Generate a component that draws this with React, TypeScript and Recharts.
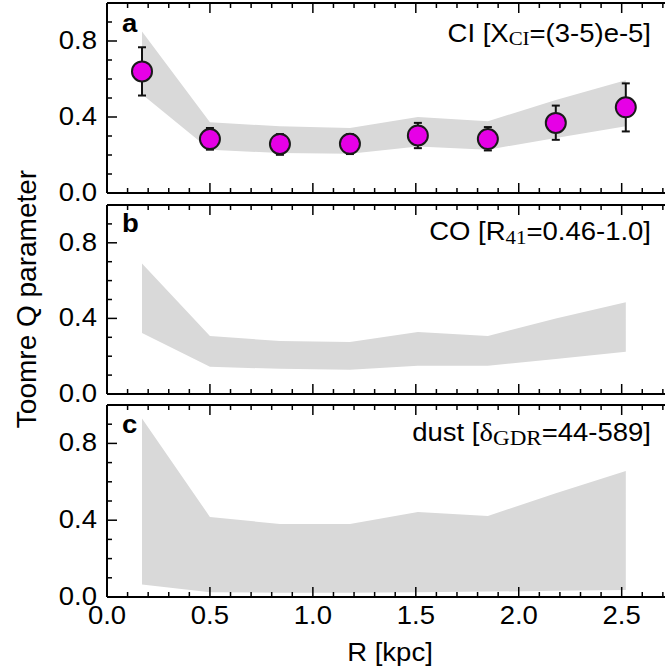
import { ComposedChart, Area, Scatter, ErrorBar, XAxis, YAxis } from "recharts";

// radial bins (kpc)
const radius = [0.17, 0.5, 0.84, 1.18, 1.51, 1.85, 2.18, 2.52];

// panel a: CI
const ciQ = [0.64, 0.284, 0.258, 0.259, 0.303, 0.284, 0.369, 0.451];
const ciErrLow = [0.513, 0.228, 0.201, 0.205, 0.236, 0.224, 0.28, 0.324];
const ciErrHigh = [0.767, 0.342, 0.31, 0.31, 0.369, 0.347, 0.46, 0.577];
const ciBandLow = [0.52, 0.228, 0.21, 0.206, 0.245, 0.228, 0.29, 0.351];
const ciBandHigh = [0.85, 0.372, 0.351, 0.342, 0.4, 0.377, 0.49, 0.593];

// panel b: CO
const coBandLow = [0.323, 0.144, 0.133, 0.128, 0.149, 0.149, 0.185, 0.223];
const coBandHigh = [0.69, 0.307, 0.28, 0.275, 0.328, 0.307, 0.4, 0.486];

// panel c: dust
const dustBandLow = [0.065, 0.025, 0.022, 0.022, 0.025, 0.028, 0.032, 0.036];
const dustBandHigh = [0.93, 0.417, 0.38, 0.38, 0.443, 0.422, 0.54, 0.656];

const xTicks = [0, 0.1, 0.2, 0.3, 0.4, 0.5, 0.6, 0.7, 0.8, 0.9, 1.0, 1.1, 1.2, 1.3, 1.4, 1.5, 1.6, 1.7, 1.8, 1.9, 2.0, 2.1, 2.2, 2.3, 2.4, 2.5, 2.6, 2.7];
const xMajor = [0, 0.5, 1.0, 1.5, 2.0, 2.5];
const xLabels = ["0.0", "0.5", "1.0", "1.5", "2.0", "2.5"];
const yTicks = [0, 0.1, 0.2, 0.3, 0.4, 0.5, 0.6, 0.7, 0.8, 0.9, 1.0];
const yMajor = [0, 0.4, 0.8];
const yLabels = ["0.0", "0.4", "0.8"];

const FONT = "'Liberation Sans', Arial, sans-serif";
const SERIF = "'Liberation Serif', 'Times New Roman', serif";
const W = 669;
const H = 669;
// the source figure is slightly stretched horizontally
const SX = 1.1;

const majorIndex = (v: number, list: number[]) => list.findIndex((m) => Math.abs(m - v) < 1e-6);

function XTick(props: any) {
  const { x, y, payload, side, showLabel } = props;
  const i = majorIndex(payload.value, xMajor);
  const len = i >= 0 ? 10 : 5;
  const dir = side === "bottom" ? -1 : 1;
  return (
    <g>
      <line x1={x} x2={x} y1={y} y2={y + dir * len} stroke="#000" strokeWidth={1.5} />
      {showLabel && i >= 0 && (
        <text transform={`translate(${x},${y + 27}) scale(${SX},1)`} textAnchor="middle" fontSize={25} fontFamily={FONT} fill="#000">
          {xLabels[i]}
        </text>
      )}
    </g>
  );
}

function YTick(props: any) {
  const { x, y, payload, side } = props;
  const i = majorIndex(payload.value, yMajor);
  const len = i >= 0 ? 10 : 5;
  const dir = side === "left" ? 1 : -1;
  return (
    <g>
      <line x1={x} x2={x + dir * len} y1={y} y2={y} stroke="#000" strokeWidth={1.5} />
      {side === "left" && i >= 0 && (
        <text transform={`translate(${x - 10},${y + 8}) scale(${SX},1)`} textAnchor="end" fontSize={25} fontFamily={FONT} fill="#000">
          {yLabels[i]}
        </text>
      )}
    </g>
  );
}

const dot = (p: any) => (
  <circle cx={p.cx} cy={p.cy} r={10} fill="#e600e6" stroke="#1a1a1a" strokeWidth={2} />
);

function Panel({
  top,
  bottom,
  low,
  high,
  q,
  qLow,
  qHigh,
  showX,
}: {
  top: number;
  bottom: number;
  low: number[];
  high: number[];
  q?: number[];
  qLow?: number[];
  qHigh?: number[];
  showX?: boolean;
}) {
  const data = radius.map((r, i) => ({
    r,
    band: [low[i], high[i]],
    q: q ? q[i] : undefined,
    err: q && qLow && qHigh ? [q[i] - qLow[i], qHigh[i] - q[i]] : undefined,
  }));
  const axisLine = { stroke: "#000", strokeWidth: 2 };
  return (
    <div style={{ position: "absolute", left: 0, top: 0 }}>
      <ComposedChart width={W} height={H} data={data} margin={{ top: top - 1, bottom: H - bottom - 1, left: 106, right: 0 }}>
        <XAxis xAxisId="b" dataKey="r" type="number" domain={[0, 2.725]} ticks={xTicks} interval={0}
          height={1} tickSize={0} tickMargin={0} axisLine={axisLine} tickLine={false}
          tick={(p: any) => <XTick {...p} side="bottom" showLabel={showX} />} />
        <XAxis xAxisId="t" orientation="top" dataKey="r" type="number" domain={[0, 2.725]} ticks={xTicks} interval={0}
          height={1} tickSize={0} tickMargin={0} axisLine={axisLine} tickLine={false}
          tick={(p: any) => <XTick {...p} side="top" />} />
        <YAxis yAxisId="l" type="number" domain={[0, 1]} ticks={yTicks} interval={0}
          width={1} tickSize={0} tickMargin={0} axisLine={axisLine} tickLine={false}
          tick={(p: any) => <YTick {...p} side="left" />} />
        <YAxis yAxisId="r" orientation="right" type="number" domain={[0, 1]} ticks={yTicks} interval={0}
          width={1} tickSize={0} tickMargin={0} axisLine={axisLine} tickLine={false}
          tick={(p: any) => <YTick {...p} side="right" />} />
        <Area xAxisId="b" yAxisId="l" type="linear" dataKey="band" fill="#d9d9d9" fillOpacity={1}
          stroke="none" dot={false} activeDot={false} isAnimationActive={false} />
        {q && (
          <Scatter xAxisId="b" yAxisId="l" dataKey="q" shape={dot} isAnimationActive={false}>
            <ErrorBar dataKey="err" direction="y" width={4} strokeWidth={2} stroke="#111" isAnimationActive={false} />
          </Scatter>
        )}
      </ComposedChart>
    </div>
  );
}

export default function App() {
  const txt = { fontFamily: FONT, fontSize: 25, fill: "#000" };
  const at = (x: number, y: number) => `translate(${x},${y}) scale(${SX},1)`;
  return (
    <div style={{ position: "absolute", left: 0, top: 0, width: 665, height: 669, overflow: "hidden", background: "#fff" }}>
      <Panel top={3} bottom={193} low={ciBandLow} high={ciBandHigh} q={ciQ} qLow={ciErrLow} qHigh={ciErrHigh} />
      <Panel top={205} bottom={394} low={coBandLow} high={coBandHigh} />
      <Panel top={405} bottom={597} low={dustBandLow} high={dustBandHigh} showX />
      <svg width={665} height={669} style={{ position: "absolute", left: 0, top: 0, pointerEvents: "none" }}>
        <text transform={at(122, 32)} {...txt} fontWeight="bold">a</text>
        <text transform={at(122, 232)} {...txt} fontWeight="bold">b</text>
        <text transform={at(122, 433)} {...txt} fontWeight="bold">c</text>

        <text transform={at(651, 42)} {...txt} textAnchor="end">
          CI [X<tspan fontFamily={SERIF} fontSize={19} dy={3}>CI</tspan>
          <tspan dy={-3}>=(3-5)e-5]</tspan>
        </text>
        <text transform={at(651, 240)} {...txt} textAnchor="end">
          CO [R<tspan fontFamily={SERIF} fontSize={19} dy={4}>41</tspan>
          <tspan dy={-4}>=0.46-1.0]</tspan>
        </text>
        <text transform={at(651, 441)} {...txt} textAnchor="end">
          dust [<tspan fontFamily={SERIF} fontSize={26}>δ</tspan>
          <tspan fontFamily={SERIF} fontSize={21} dy={4}>GDR</tspan>
          <tspan dy={-4}>=44-589]</tspan>
        </text>

        <text transform={at(390, 661)} {...txt} textAnchor="middle">R [kpc]</text>
        <text transform="translate(36,299) rotate(-90)" {...txt} fontSize={28} textAnchor="middle">
          Toomre Q parameter
        </text>
      </svg>
    </div>
  );
}
